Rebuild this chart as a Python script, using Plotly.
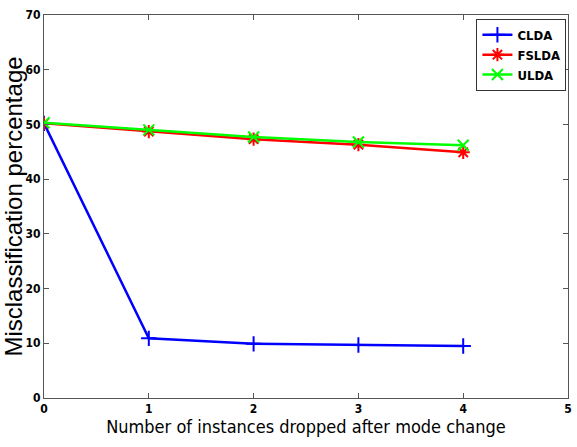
import plotly.graph_objects as go

x_vals = [0, 1, 2, 3, 4]
clda = [50.2, 10.9, 9.9, 9.7, 9.5]
fslda = [50.2, 48.7, 47.3, 46.3, 44.9]
ulda = [50.3, 49.0, 47.7, 46.8, 46.2]
x_ticks = [0, 1, 2, 3, 4, 5]
y_ticks = [0, 10, 20, 30, 40, 50, 60, 70]

fig = go.Figure()
series = [
    ("CLDA", clda, "#0000ff", "cross-thin-open"),
    ("FSLDA", fslda, "#ff0000", "asterisk-open"),
    ("ULDA", ulda, "#00ff00", "x-thin-open"),
]
for name, ys, col, sym in series:
    fig.add_trace(go.Scatter(
        x=x_vals, y=ys, name=name, mode="lines+markers",
        line=dict(color=col, width=2.5),
        marker=dict(symbol=sym, size=11, line=dict(color=col, width=2)),
    ))

tickfont = dict(family="DejaVu Sans Condensed", size=12, color="black", weight="bold")
axis_common = dict(
    showgrid=False, zeroline=False, showline=True, mirror="ticks",
    linecolor="#555555", linewidth=1, ticks="inside", ticklen=5,
    tickcolor="#555555", tickfont=tickfont,
)
fig.update_xaxes(range=[0, 5], tickvals=x_ticks, **axis_common,
                 title=dict(text="Number of instances dropped after mode change",
                            font=dict(family="DejaVu Sans Condensed", size=18, color="black"),
                            standoff=2))
fig.update_yaxes(range=[0, 70], tickvals=y_ticks, **axis_common,
                 title=dict(text="Misclassification percentage",
                            font=dict(family="Liberation Sans", size=24, color="black"),
                            standoff=2))
fig.update_layout(
    width=577, height=447,
    margin=dict(l=44, r=5, t=15, b=49),
    plot_bgcolor="white", paper_bgcolor="white",
    legend=dict(x=0.997, y=0.99, xanchor="right", yanchor="top",
                bordercolor="#333333", borderwidth=1, bgcolor="white",
                font=dict(family="DejaVu Sans Condensed", size=13, color="black", weight="bold"),
                tracegroupgap=0, itemwidth=30),
)
fig.write_html("out.html")
